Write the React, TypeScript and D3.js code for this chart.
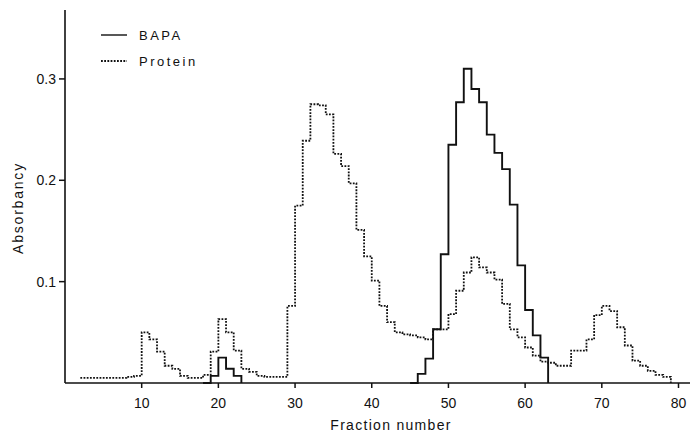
import React, { useRef, useEffect } from "react";
import * as d3 from "d3";

// fraction numbers and absorbancy readings (step plot, each value spans [f, f+1])
const proteinFractions = [
  2, 3, 4, 5, 6, 7, 8, 9, 10, 11, 12, 13, 14, 15, 16, 17, 18, 19, 20, 21, 22,
  23, 24, 25, 26, 27, 28, 29, 30, 31, 32, 33, 34, 35, 36, 37, 38, 39, 40, 41,
  42, 43, 44, 45, 46, 47, 48, 49, 50, 51, 52, 53, 54, 55, 56, 57, 58, 59, 60,
  61, 62, 63, 64, 65, 66, 67, 68, 69, 70, 71, 72, 73, 74, 75, 76, 77, 78, 79,
];
const proteinValues = [
  0.005, 0.005, 0.005, 0.005, 0.005, 0.005, 0.006, 0.007, 0.05, 0.043, 0.031,
  0.017, 0.014, 0.007, 0.005, 0.005, 0.008, 0.031, 0.063, 0.05, 0.032, 0.014,
  0.011, 0.007, 0.006, 0.006, 0.006, 0.076, 0.175, 0.239, 0.275, 0.274, 0.265,
  0.226, 0.214, 0.197, 0.151, 0.125, 0.101, 0.076, 0.06, 0.05, 0.048, 0.047,
  0.045, 0.043, 0.053, 0.053, 0.068, 0.091, 0.109, 0.124, 0.114, 0.109, 0.102,
  0.078, 0.053, 0.045, 0.035, 0.027, 0.021, 0.02, 0.017, 0.017, 0.032, 0.032,
  0.043, 0.067, 0.076, 0.071, 0.055, 0.037, 0.022, 0.017, 0.012, 0.008, 0.006,
  0,
];

// BAPA has two separate peaks, null = not drawn
const bapaFractions = [
  18, 19, 20, 21, 22, 23, 24, 45, 46, 47, 48, 49, 50, 51, 52, 53, 54, 55, 56,
  57, 58, 59, 60, 61, 62, 63,
];
const bapaValues = [
  0, 0.007, 0.025, 0.014, 0.007, 0, null, 0, 0.009, 0.024, 0.053, 0.127, 0.235,
  0.277, 0.31, 0.29, 0.277, 0.245, 0.227, 0.211, 0.176, 0.116, 0.072, 0.047,
  0.025, 0,
];

const xTicks = [10, 20, 30, 40, 50, 60, 70, 80];
const yTicks = [0.1, 0.2, 0.3];
const legendItems = ["BAPA", "Protein"];

const width = 699;
const height = 435;

const App = () => {
  const ref = useRef<SVGSVGElement>(null);

  useEffect(() => {
    document.body.style.margin = "0";
    const svg = d3.select(ref.current);
    svg.selectAll("*").remove();

    const x = d3.scaleLinear().domain([0, 81.5]).range([65, 690]);
    const y = d3.scaleLinear().domain([0, 0.368]).range([383, 10]);

    const font = "'Liberation Sans', Arial, sans-serif";
    const ink = "#111";

    // axes
    svg
      .append("line")
      .attr("x1", x(0))
      .attr("x2", x(0))
      .attr("y1", y(0))
      .attr("y2", y.range()[1])
      .attr("stroke", ink)
      .attr("stroke-width", 1.6);
    svg
      .append("line")
      .attr("x1", x(0))
      .attr("x2", x.range()[1])
      .attr("y1", y(0))
      .attr("y2", y(0))
      .attr("stroke", ink)
      .attr("stroke-width", 1.6);

    svg
      .selectAll(".xtick")
      .data(xTicks)
      .enter()
      .append("line")
      .attr("x1", (d) => x(d))
      .attr("x2", (d) => x(d))
      .attr("y1", y(0))
      .attr("y2", y(0) + 5)
      .attr("stroke", ink)
      .attr("stroke-width", 1.5);
    svg
      .selectAll(".xlabel")
      .data(xTicks)
      .enter()
      .append("text")
      .attr("x", (d) => x(d))
      .attr("y", y(0) + 25)
      .attr("text-anchor", "middle")
      .style("font-family", font)
      .style("font-size", "14px")
      .style("fill", ink)
      .text((d) => d);

    svg
      .selectAll(".ytick")
      .data(yTicks)
      .enter()
      .append("line")
      .attr("x1", x(0) - 6)
      .attr("x2", x(0))
      .attr("y1", (d) => y(d))
      .attr("y2", (d) => y(d))
      .attr("stroke", ink)
      .attr("stroke-width", 1.5);
    svg
      .selectAll(".ylabel")
      .data(yTicks)
      .enter()
      .append("text")
      .attr("x", x(0) - 9)
      .attr("y", (d) => y(d) + 5)
      .attr("text-anchor", "end")
      .style("font-family", font)
      .style("font-size", "14px")
      .style("fill", ink)
      .text((d) => d3.format(".1f")(d));

    // axis titles
    svg
      .append("text")
      .attr("x", 391)
      .attr("y", 430)
      .attr("text-anchor", "middle")
      .style("font-family", font)
      .style("font-size", "14px")
      .style("letter-spacing", "1.3px")
      .style("fill", ink)
      .text("Fraction number");
    svg
      .append("text")
      .attr("transform", "translate(23,208) rotate(-90)")
      .attr("text-anchor", "middle")
      .style("font-family", font)
      .style("font-size", "14px")
      .style("letter-spacing", "1.8px")
      .style("fill", ink)
      .text("Absorbancy");

    // step lines
    const protein = proteinFractions.map((f, i) => ({ f, v: proteinValues[i] }));
    const bapa = bapaFractions.map((f, i) => ({ f, v: bapaValues[i] }));

    const line = d3
      .line<{ f: number; v: number | null }>()
      .defined((d) => d.v != null)
      .x((d) => x(d.f))
      .y((d) => y(d.v as number))
      .curve(d3.curveStepAfter);

    svg
      .append("path")
      .attr("d", line(protein))
      .attr("fill", "none")
      .attr("stroke", ink)
      .attr("stroke-width", 1.8)
      .attr("stroke-dasharray", "1.8 1.4");

    svg
      .append("path")
      .attr("d", line(bapa))
      .attr("fill", "none")
      .attr("stroke", ink)
      .attr("stroke-width", 1.9);

    // legend
    const legend = svg
      .selectAll(".legend")
      .data(legendItems)
      .enter()
      .append("g")
      .attr("transform", (d, i) => `translate(101,${35 + i * 26})`);
    legend
      .append("line")
      .attr("x1", 0)
      .attr("x2", 26)
      .attr("stroke", ink)
      .attr("stroke-width", (d) => (d === "BAPA" ? 1.4 : 1.8))
      .attr("stroke-dasharray", (d) => (d === "BAPA" ? null : "1.8 1.4"));
    legend
      .append("text")
      .attr("x", 38)
      .attr("y", 5)
      .style("font-family", font)
      .style("font-size", "13px")
      .style("letter-spacing", "2.5px")
      .style("fill", ink)
      .text((d) => d);
  }, []);

  return <svg ref={ref} width={width} height={height}></svg>;
};

export default App;
